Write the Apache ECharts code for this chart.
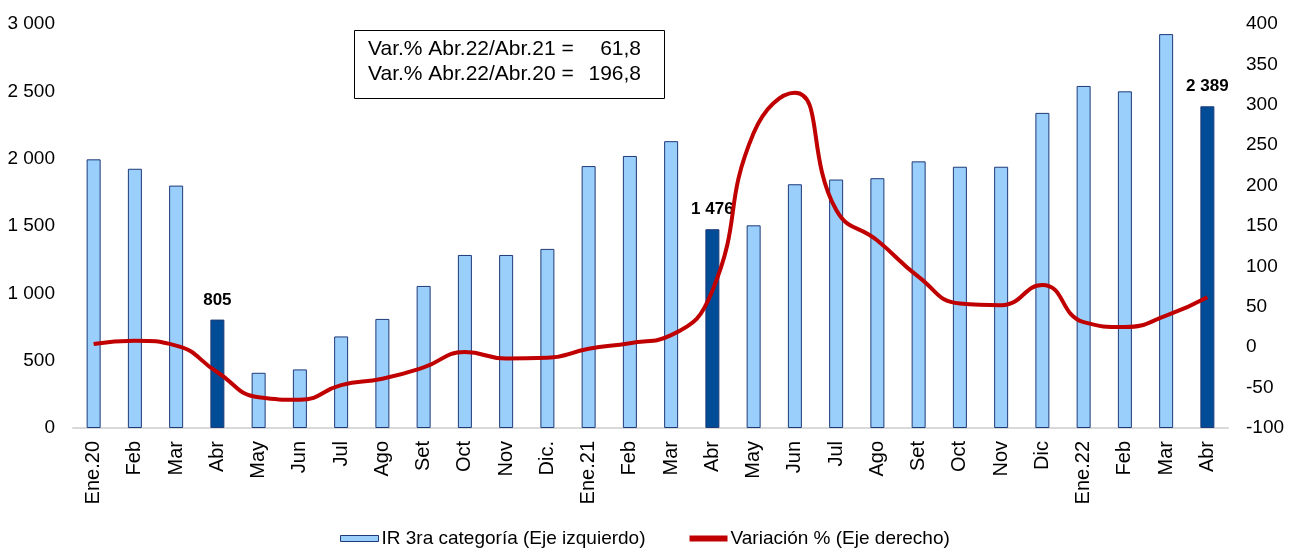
<!DOCTYPE html>
<html>
<head>
<meta charset="utf-8">
<script src="https://cdn.jsdelivr.net/npm/echarts@6/dist/echarts.min.js"></script>
<style>
  html, body { margin: 0; padding: 0; background: #fff; }
  #chart { width: 1294px; height: 548px; }
</style>
</head>
<body>
<div id="chart"></div>
<script>
const categories = ["Ene.20", "Feb", "Mar", "Abr", "May", "Jun", "Jul", "Ago", "Set", "Oct", "Nov", "Dic.",
  "Ene.21", "Feb", "Mar", "Abr", "May", "Jun", "Jul", "Ago", "Set", "Oct", "Nov", "Dic",
  "Ene.22", "Feb", "Mar", "Abr"];
const irValues = [1995, 1925, 1800, 805, 410, 435, 680, 810, 1055, 1285, 1285, 1330,
  1945, 2020, 2130, 1476, 1505, 1810, 1845, 1855, 1980, 1940, 1940, 2340,
  2540, 2500, 2925, 2389];
const variation = [4, 8, 2, -31, -62, -65, -47, -39, -25, -6, -14, -13,
  -2, 5, 15, 70, 265, 315, 170, 132, 87, 54, 52, 77,
  31, 25, 39, 61.8];
const noteLines = ["Var.% Abr.22/Abr.21 =", "Var.% Abr.22/Abr.20 ="];
const noteValues = ["61,8", "196,8"];

const FONT = "Liberation Sans, Arial, sans-serif";
const fmt = (v) => String(v).replace(/\B(?=(\d{3})+(?!\d))/g, " ");

const chart = echarts.init(document.getElementById("chart"));
chart.setOption({
  animation: false,
  textStyle: { fontFamily: FONT },
  grid: { left: 73, right: 66, top: 24, bottom: 120 },
  legend: {
    top: 524,
    left: 335,
    itemGap: 44,
    itemWidth: 38,
    itemHeight: 6,
    textStyle: { fontSize: 19, color: "#000", padding: [0, 0, 0, -2] },
    data: [
      {
        name: "IR 3ra categoría (Eje izquierdo)",
        icon: "rect",
        itemStyle: { color: "#99CFFA", borderColor: "#1F3A78", borderWidth: 1 }
      },
      {
        name: "Variación % (Eje derecho)",
        icon: "rect",
        itemStyle: { color: "#C00000", borderWidth: 0 }
      }
    ]
  },
  xAxis: {
    type: "category",
    data: categories,
    axisTick: { show: false },
    axisLine: { lineStyle: { color: "#d9d9d9", width: 2 } },
    axisLabel: { rotate: 90, interval: 0, margin: 13, fontSize: 20, color: "#000" }
  },
  yAxis: [
    {
      type: "value", min: 0, max: 3000, interval: 500,
      splitLine: { show: false },
      axisLabel: { fontSize: 19, color: "#000", margin: 18, formatter: fmt }
    },
    {
      type: "value", min: -100, max: 400, interval: 50,
      splitLine: { show: false },
      axisLabel: { fontSize: 19, color: "#000", margin: 18 }
    }
  ],
  graphic: [
    {
      type: "rect",
      shape: { x: 354.5, y: 30.5, width: 310, height: 68 },
      style: { fill: "#fff", stroke: "#000", lineWidth: 1 }
    },
    {
      type: "text", x: 368, y: 37,
      style: { text: noteLines.join("\n"), font: "21px " + FONT, fill: "#000", lineHeight: 25 }
    },
    {
      type: "text", x: 641, y: 37,
      style: { text: noteValues.join("\n"), font: "21px " + FONT, fill: "#000", lineHeight: 25, align: "right" }
    }
  ],
  series: [
    {
      name: "IR 3ra categoría (Eje izquierdo)",
      type: "bar",
      yAxisIndex: 0,
      barWidth: 14,
      data: irValues,
      itemStyle: {
        color: (p) => (p.name === "Abr" ? "#004C97" : "#99CFFA"),
        borderColor: "#1F3A78",
        borderWidth: 1
      },
      label: {
        show: true,
        position: "top",
        distance: 11,
        fontWeight: "bold",
        fontSize: 17,
        color: "#000",
        formatter: (p) => (p.name === "Abr" ? fmt(p.value) : "")
      },
      z: 2
    },
    {
      name: "Variación % (Eje derecho)",
      type: "line",
      yAxisIndex: 1,
      data: variation,
      smooth: 0.5,
      symbol: "none",
      lineStyle: { color: "#C00000", width: 4 },
      itemStyle: { color: "#C00000" },
      z: 3
    }
  ]
});
</script>
</body>
</html>
